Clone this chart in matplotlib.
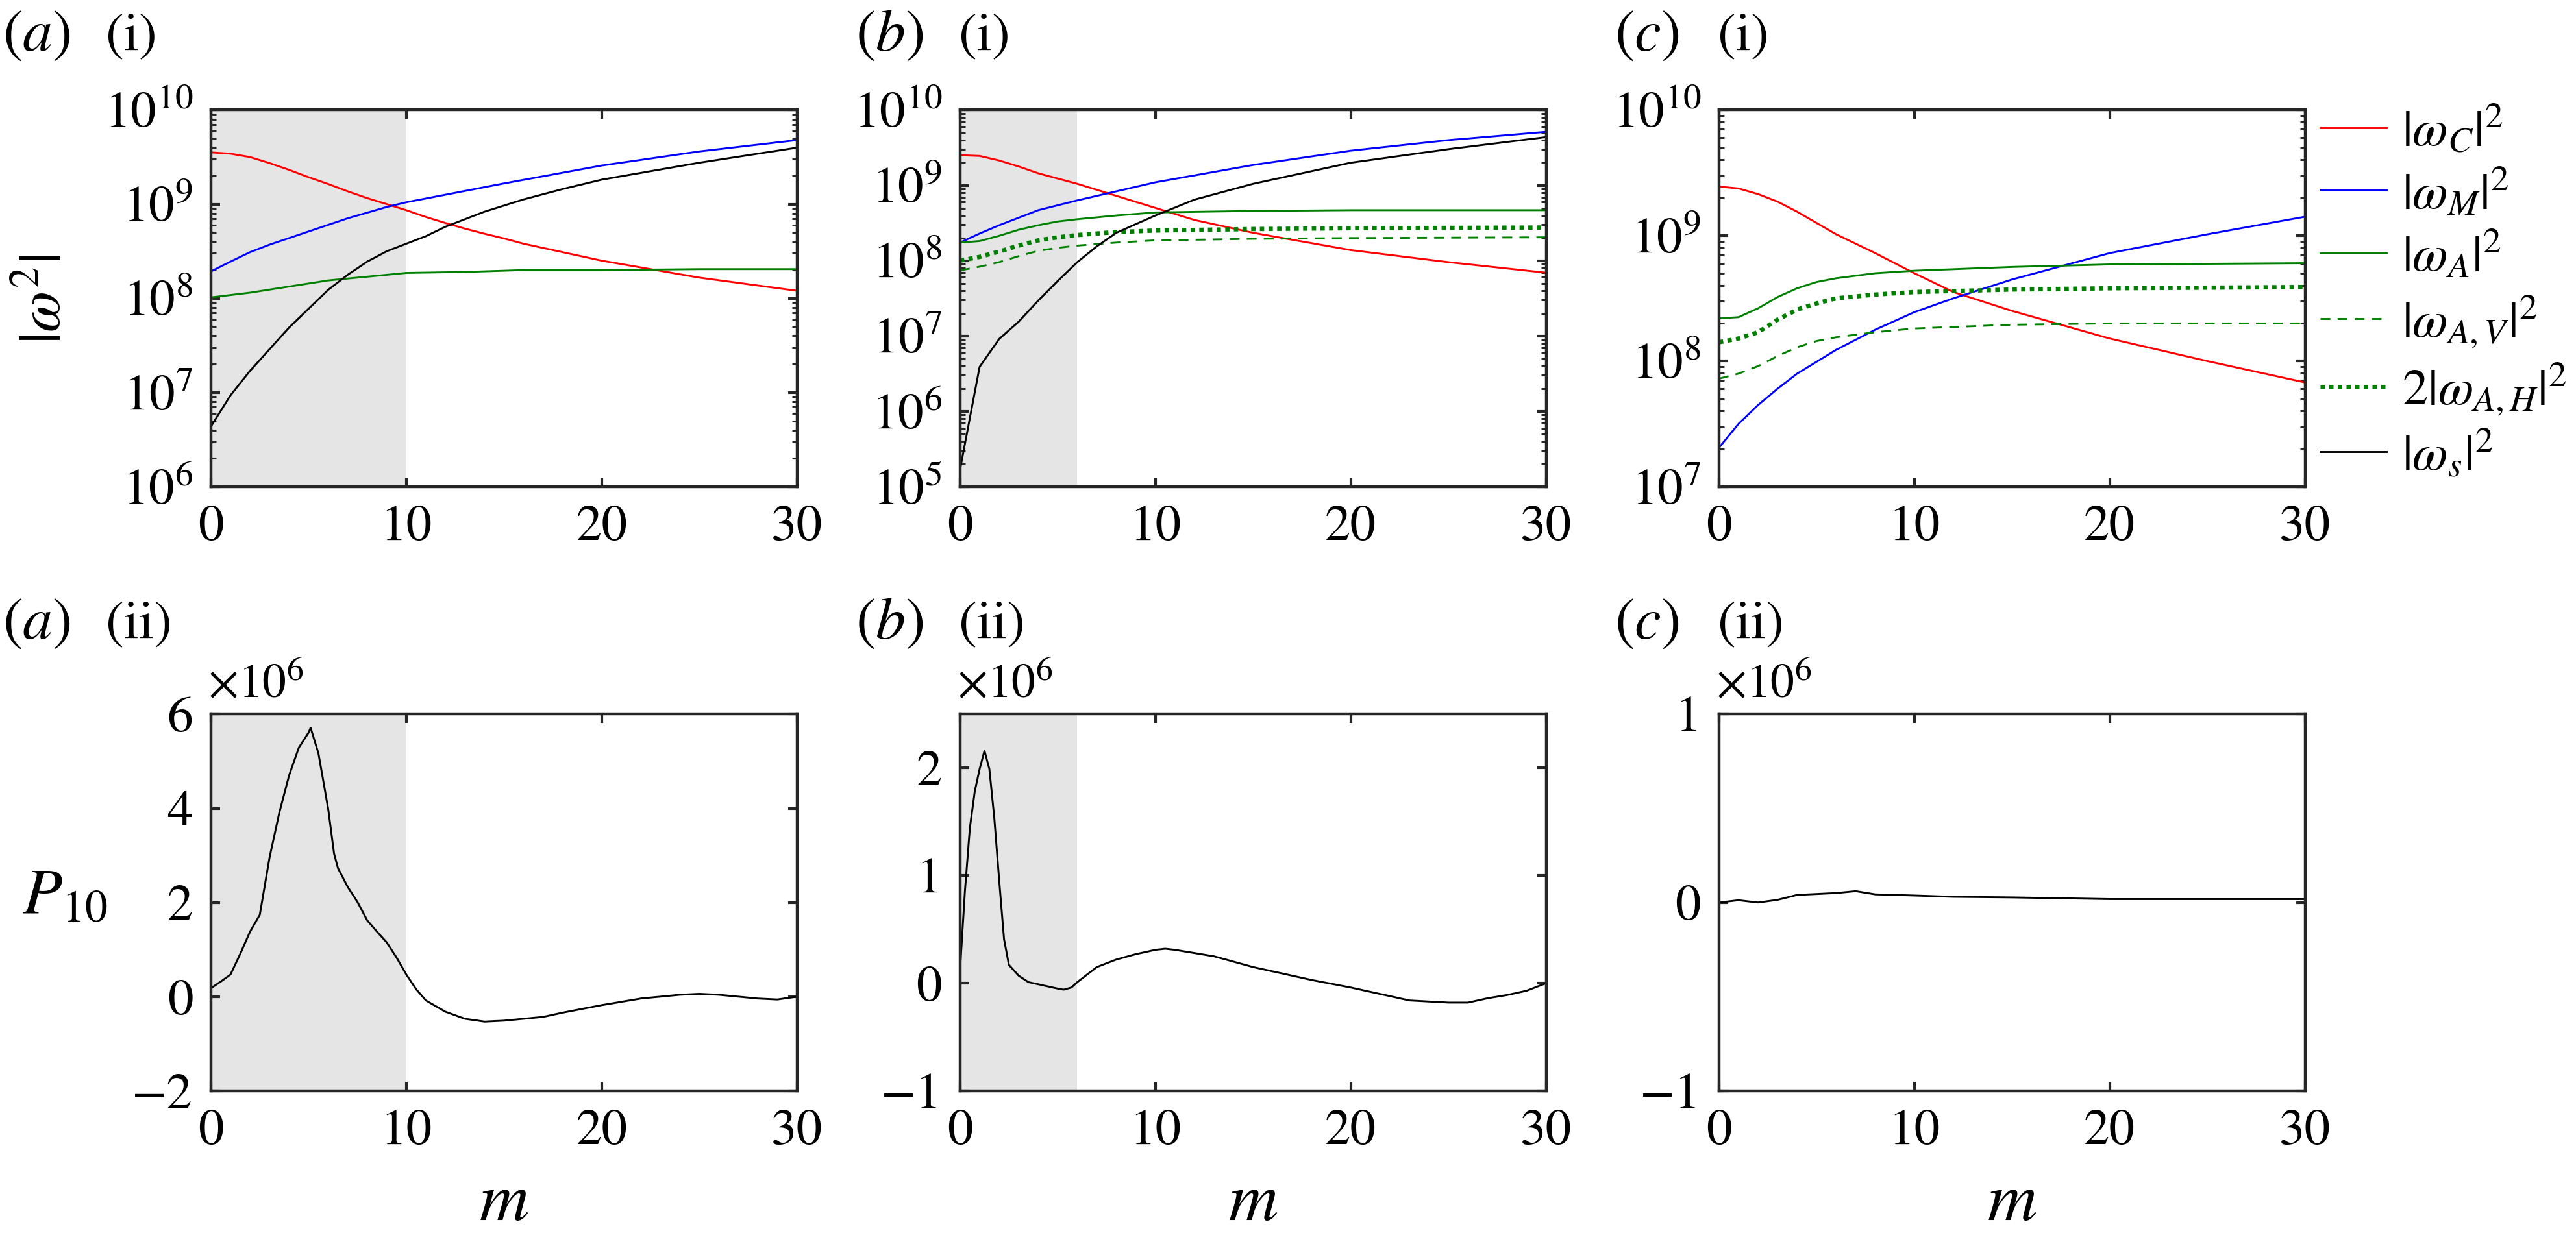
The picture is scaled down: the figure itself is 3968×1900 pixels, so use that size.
import numpy as np
import matplotlib
matplotlib.use("Agg")
import matplotlib.pyplot as plt
from matplotlib.ticker import LogLocator, NullFormatter

plt.rcParams['font.family'] = ['STIXGeneral', 'DejaVu Serif']
plt.rcParams['mathtext.fontset'] = 'stix'

# ---------------- data (log10 values for top row) ----------------
m_a = [0, 1, 2, 3, 4, 5, 6, 7, 8, 9, 10, 11, 12, 13, 14, 15, 16, 18, 20, 22.5, 25, 30]
a_C = [9.55, 9.536, 9.50, 9.436, 9.364, 9.286, 9.214, 9.136, 9.064, 9.0, 8.936, 8.864, 8.80,
       8.74, 8.686, 8.636, 8.58, 8.49, 8.40, 8.31, 8.22, 8.08]
m_a2 = [0, 1, 2, 3, 4, 5, 6, 7, 8, 9, 10, 12, 15, 20, 25, 30]
a_M = [8.286, 8.39, 8.49, 8.57, 8.64, 8.71, 8.78, 8.85, 8.91, 8.97, 9.02, 9.10, 9.22, 9.41,
       9.56, 9.68]
m_a3 = [0, 2, 4, 6, 8, 10, 13, 16, 20, 25, 30]
a_A = [8.01, 8.06, 8.125, 8.19, 8.23, 8.27, 8.28, 8.30, 8.30, 8.31, 8.31]
m_as = [0, 1, 2, 3, 4, 5, 6, 7, 8, 9, 10, 11, 12, 14, 16, 18, 20, 25, 30]
a_s = [6.64, 6.97, 7.23, 7.46, 7.69, 7.89, 8.09, 8.25, 8.39, 8.50, 8.58, 8.66, 8.76, 8.92,
       9.05, 9.16, 9.26, 9.44, 9.60]

m_b = [0, 1, 2, 3, 4, 6, 8, 10, 12, 15, 20, 25, 30]
b_C = [9.40, 9.39, 9.33, 9.25, 9.16, 9.02, 8.86, 8.70, 8.54, 8.37, 8.14, 7.98, 7.84]
m_b2 = [0, 1, 2, 3, 4, 6, 8, 10, 15, 20, 25, 30]
b_M = [8.24, 8.36, 8.47, 8.57, 8.67, 8.80, 8.92, 9.04, 9.27, 9.46, 9.60, 9.71]
m_b3 = [0, 1, 2, 3, 4, 5, 6, 8, 10, 15, 20, 30]
b_A = [8.24, 8.26, 8.33, 8.41, 8.47, 8.52, 8.55, 8.60, 8.64, 8.66, 8.67, 8.67]
m_b4 = [0, 1, 2, 3, 4, 5, 6, 8, 10, 15, 20, 30]
b_AH = [8.00, 8.05, 8.12, 8.20, 8.27, 8.31, 8.34, 8.38, 8.40, 8.42, 8.43, 8.44]
b_AV = [7.87, 7.92, 7.98, 8.06, 8.13, 8.17, 8.20, 8.24, 8.27, 8.29, 8.30, 8.31]
m_bs = [0, 1, 2, 3, 4, 5, 6, 7, 8, 10, 12, 15, 20, 25, 30]
b_s = [5.23, 6.59, 6.96, 7.19, 7.47, 7.73, 7.98, 8.19, 8.37, 8.60, 8.81, 9.02, 9.30, 9.48, 9.64]

m_c = [0, 1, 2, 3, 4, 6, 8, 10, 12, 15, 20, 25, 30]
c_C = [9.39, 9.375, 9.33, 9.27, 9.19, 9.01, 8.86, 8.70, 8.55, 8.40, 8.18, 8.00, 7.83]
m_c2 = [0, 1, 2, 3, 4, 6, 8, 10, 12, 15, 20, 25, 30]
c_M = [7.31, 7.50, 7.65, 7.78, 7.90, 8.09, 8.25, 8.39, 8.50, 8.65, 8.86, 9.01, 9.15]
m_c3 = [0, 1, 2, 3, 4, 5, 6, 8, 10, 15, 20, 30]
c_A = [8.34, 8.35, 8.42, 8.51, 8.58, 8.63, 8.66, 8.70, 8.72, 8.75, 8.77, 8.78]
m_c4 = [0, 1, 2, 3, 4, 5, 6, 8, 10, 15, 20, 30]
c_AH = [8.15, 8.18, 8.23, 8.33, 8.41, 8.46, 8.50, 8.53, 8.55, 8.57, 8.58, 8.59]
c_AV = [7.86, 7.90, 7.96, 8.04, 8.11, 8.16, 8.19, 8.23, 8.26, 8.29, 8.30, 8.30]

# ---------------- data (bottom row, units of 1e6) ----------------
pm_a = [0, 0.5, 1, 1.5, 2, 2.5, 3, 3.5, 4, 4.5, 5, 5.1, 5.5, 6, 6.3, 6.5, 7, 7.5, 8, 8.5,
        9, 9.5, 10, 10.5, 11, 12, 13, 14, 15, 16, 17, 18, 20, 22, 24, 25, 26, 27, 28, 29, 30]
P_a = [0.18, 0.32, 0.47, 0.91, 1.38, 1.74, 2.96, 3.91, 4.70, 5.29, 5.61, 5.71, 5.17, 3.99, 3.04,
       2.73, 2.33, 2.01, 1.62, 1.38, 1.15, 0.83, 0.47, 0.16, -0.08, -0.32, -0.47, -0.53, -0.51,
       -0.47, -0.43, -0.34, -0.18, -0.04, 0.04, 0.06, 0.04, 0.0, -0.04, -0.06, 0.0]
pm_b = [0, 0.25, 0.5, 0.75, 1, 1.25, 1.5, 1.75, 2, 2.25, 2.5, 3, 3.5, 4, 4.5, 5, 5.3, 5.7, 6,
        6.5, 7, 8, 9, 10, 10.5, 11, 12, 13, 14, 15, 16, 17, 18, 20, 22, 23, 24, 25, 26, 27, 28, 29, 30]
P_b = [0.13, 0.86, 1.44, 1.78, 1.99, 2.16, 1.99, 1.54, 0.96, 0.41, 0.17, 0.07, 0.01, -0.01, -0.03,
       -0.05, -0.06, -0.04, 0.01, 0.08, 0.15, 0.22, 0.27, 0.31, 0.32, 0.31, 0.28, 0.25, 0.20, 0.15,
       0.11, 0.07, 0.03, -0.04, -0.12, -0.16, -0.17, -0.18, -0.18, -0.14, -0.11, -0.07, 0.0]
pm_c = [0, 1, 2, 3, 4, 5, 6, 7, 8, 10, 12, 15, 20, 25, 30]
P_c = [0.0, 0.012, 0.0, 0.014, 0.04, 0.045, 0.05, 0.06, 0.043, 0.037, 0.03, 0.027, 0.018, 0.018, 0.018]

shade_end = [10, 6, None]
ylims_top = [(1e6, 1e10), (1e5, 1e10), (1e7, 1e10)]
ylims_bot = [(-2, 6), (-1, 2.5), (-1, 1)]
yticks_bot = [[-2, 0, 2, 4, 6], [-1, 0, 1, 2], [-1, 0, 1]]
xticks = [0, 10, 20, 30]
letters = ['a', 'b', 'c']
legend_labels = [r'$|\omega_C|^2$', r'$|\omega_M|^2$', r'$|\omega_A|^2$',
                 r'$|\omega_{A,V}|^2$', r'$2|\omega_{A,H}|^2$', r'$|\omega_s|^2$']

RED, BLUE, GREEN, BLACK = '#ff0000', '#0000ff', '#008000', '#000000'
SHADE = '#e5e5e5'
LW = 2.1
DASH = (0, (5.2, 3.8))
DOT = (0, (1, 1))
DOTLW = 4.8
TICKFS = 57
LEGFS = 57
PANFS = 66
ROMFS = 60
DPI = 100

fig = plt.figure(figsize=(39.68, 19.0), dpi=DPI)
lefts = [0.0819, 0.3727, 0.6673]
W = 0.2275
H = 0.3055
top_b = 0.6053
bot_b = 0.1153

def style(ax):
    for s in ax.spines.values():
        s.set_linewidth(3.2)
        s.set_color('#262626')
    ax.tick_params(which='both', direction='in', top=True, right=True,
                   labelsize=TICKFS, colors='#262626', labelcolor='black')
    ax.tick_params(which='major', length=10, width=3.0)
    ax.tick_params(which='minor', length=6, width=2.2)
    ax.tick_params(axis='x', which='major', pad=21)
    ax.tick_params(axis='y', which='major', pad=20)

def p10(v):
    return [10.0 ** x for x in v]

top_axes = []
for i in range(3):
    ax = fig.add_axes([lefts[i], top_b, W, H])
    top_axes.append(ax)
    ax.set_yscale('log')
    if shade_end[i] is not None:
        ax.axvspan(0, shade_end[i], color=SHADE, lw=0, zorder=0)
    ax.set_xlim(0, 30)
    ax.set_ylim(*ylims_top[i])
    ax.set_xticks(xticks)
    ax.yaxis.set_major_locator(LogLocator(base=10, numticks=20))
    ax.yaxis.set_minor_locator(LogLocator(base=10, subs=np.arange(2, 10), numticks=100))
    ax.yaxis.set_minor_formatter(NullFormatter())
    style(ax)

ax = top_axes[0]
ax.plot(m_a, p10(a_C), color=RED, lw=LW)
ax.plot(m_a2, p10(a_M), color=BLUE, lw=LW)
ax.plot(m_a3, p10(a_A), color=GREEN, lw=LW)
ax.plot(m_as, p10(a_s), color=BLACK, lw=LW)

ax = top_axes[1]
ax.plot(m_b, p10(b_C), color=RED, lw=LW)
ax.plot(m_b2, p10(b_M), color=BLUE, lw=LW)
ax.plot(m_b3, p10(b_A), color=GREEN, lw=LW)
ax.plot(m_b4, p10(b_AV), color=GREEN, lw=LW, ls=DASH)
ax.plot(m_b4, p10(b_AH), color=GREEN, lw=DOTLW, ls=DOT)
ax.plot(m_bs, p10(b_s), color=BLACK, lw=LW)

ax = top_axes[2]
h1, = ax.plot(m_c, p10(c_C), color=RED, lw=LW)
h2, = ax.plot(m_c2, p10(c_M), color=BLUE, lw=LW)
h3, = ax.plot(m_c3, p10(c_A), color=GREEN, lw=LW)
h4, = ax.plot(m_c4, p10(c_AV), color=GREEN, lw=LW, ls=DASH)
h5, = ax.plot(m_c4, p10(c_AH), color=GREEN, lw=DOTLW, ls=DOT)
h6, = ax.plot([], [], color=BLACK, lw=LW)
handles = [h1, h2, h3, h4, h5, h6]

fs_px = LEGFS * DPI / 72.0
ax_h_px = H * 19.0 * DPI
target_first = 0.055 * ax_h_px   # px below axes top
target_step = 0.172 * ax_h_px

def make_legend(ls, yanchor):
    return ax.legend(handles, legend_labels, loc='upper left',
                     bbox_to_anchor=(1.0, yanchor), frameon=False, fontsize=LEGFS,
                     handlelength=1.3, handletextpad=0.3, borderaxespad=0.29,
                     borderpad=0.0, labelspacing=ls)

ls = 0.5
yanc = 1.0
leg = make_legend(ls, yanc)
for _ in range(2):
    fig.canvas.draw()
    r = fig.canvas.get_renderer()
    cs = [(t.get_window_extent(r).y0 + t.get_window_extent(r).y1) / 2 for t in leg.get_texts()]
    step = (cs[0] - cs[-1]) / 5.0
    ls = ls + (target_step - step) / fs_px
    leg.remove()
    leg = make_legend(ls, yanc)
    fig.canvas.draw()
    r = fig.canvas.get_renderer()
    cs = [(t.get_window_extent(r).y0 + t.get_window_extent(r).y1) / 2 for t in leg.get_texts()]
    ax_top_px = ax.get_window_extent(r).y1
    cur_first = ax_top_px - cs[0]
    yanc = yanc - (target_first - cur_first) / ax_h_px
    leg.remove()
    leg = make_legend(ls, yanc)

P_x = [pm_a, pm_b, pm_c]
P_y = [P_a, P_b, P_c]
for i in range(3):
    ax = fig.add_axes([lefts[i], bot_b, W, H])
    if shade_end[i] is not None:
        ax.axvspan(0, shade_end[i], color=SHADE, lw=0, zorder=0)
    ax.plot(P_x[i], P_y[i], color=BLACK, lw=LW)
    ax.set_xlim(0, 30)
    ax.set_ylim(*ylims_bot[i])
    ax.set_xticks(xticks)
    ax.set_yticks(yticks_bot[i])
    style(ax)
    ax.text(-0.005, 1.043, r'$\times10^6$', transform=ax.transAxes, fontsize=53,
            ha='left', va='baseline')
    fig.text(lefts[i] + W / 2, 0.0105, r'$m$', fontsize=76, ha='center', va='baseline')

# panel labels
panel_x = [0.001, 0.3322, 0.6268]
for i in range(3):
    fig.text(panel_x[i], 0.970, r'$(%s)$' % letters[i], fontsize=PANFS, va='center', ha='left')
    fig.text(panel_x[i] + 0.040, 0.970, '(i)', fontsize=ROMFS, va='center', ha='left')
    fig.text(panel_x[i], 0.4932, r'$(%s)$' % letters[i], fontsize=PANFS, va='center', ha='left')
    fig.text(panel_x[i] + 0.040, 0.4932, '(ii)', fontsize=ROMFS, va='center', ha='left')

fig.text(0.018, 0.757, r'$|\omega^2|$', fontsize=66, rotation=90, ha='center', va='center')
fig.text(0.0086, 0.2595, r'$P_{10}$', fontsize=72, ha='left', va='baseline')

fig.savefig('out.png', dpi=DPI)
